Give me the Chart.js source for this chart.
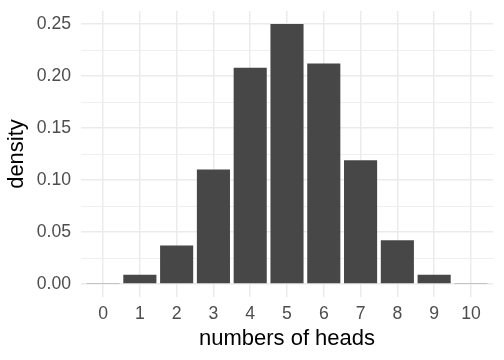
<!DOCTYPE html>
<html>
<head>
<meta charset="utf-8">
<script src="https://cdn.jsdelivr.net/npm/chart.js@4"></script>
<style>
  html, body { margin: 0; padding: 0; background: #fff; }
  #wrap { width: 504px; height: 360px; }
</style>
</head>
<body>
<div id="wrap"><canvas id="myChart" width="504" height="360"></canvas></div>
<script>
const heads = [0, 1, 2, 3, 4, 5, 6, 7, 8, 9, 10];
const density = [0.001, 0.009, 0.037, 0.110, 0.208, 0.250, 0.212, 0.119, 0.042, 0.009, 0.001];
const yTicks = [0, 0.025, 0.05, 0.075, 0.10, 0.125, 0.15, 0.175, 0.20, 0.225, 0.25];
const yLabels = ['0.00', '', '0.05', '', '0.10', '', '0.15', '', '0.20', '', '0.25'];

const ctx = document.getElementById('myChart').getContext('2d');

Chart.defaults.font.family = '"Liberation Sans", Arial, Helvetica, sans-serif';

const myChart = new Chart(ctx, {
    type: 'bar',
    data: {
        datasets: [{
            data: heads.map((h, i) => ({ x: h, y: density[i] })),
            backgroundColor: '#474747',
            borderWidth: 0,
            barPercentage: 0.9,
            categoryPercentage: 1.0
        }]
    },
    options: {
        responsive: false,
        animation: false,
        layout: { padding: { top: 0, right: 11, left: 0, bottom: 0 } },
        plugins: {
            legend: { display: false },
            tooltip: { enabled: false }
        },
        scales: {
            x: {
                type: 'linear',
                min: -0.6,
                max: 10.6,
                offset: false,
                afterBuildTicks: s => { s.ticks = heads.map(v => ({ value: v })); },
                afterFit: s => { s.height = 63; },
                grid: { color: '#ebebeb', lineWidth: 1.5, drawTicks: false, offset: false },
                border: { display: false },
                ticks: {
                    color: '#4d4d4d',
                    font: { size: 17.6 },
                    padding: 7,
                    maxRotation: 0,
                    callback: v => String(v)
                },
                title: {
                    display: true,
                    text: 'numbers of heads',
                    color: '#000',
                    font: { size: 22 },
                    padding: { top: 0, bottom: 8 }
                }
            },
            y: {
                min: -0.0125,
                max: 0.2625,
                afterBuildTicks: s => { s.ticks = yTicks.map(v => ({ value: v })); },
                afterFit: s => { s.width = 81; s.paddingTop = 11; s.paddingBottom = 0; },
                grid: {
                    color: '#ebebeb',
                    lineWidth: c => (c.index % 2 === 0 ? 1.5 : 0.8),
                    drawTicks: false
                },
                border: { display: false },
                ticks: {
                    color: '#4d4d4d',
                    font: { size: 17.6 },
                    padding: 10,
                    callback: (v, i) => yLabels[i]
                },
                title: {
                    display: true,
                    text: 'density',
                    color: '#000',
                    font: { size: 22 },
                    padding: { top: 4, bottom: 0 }
                }
            }
        }
    }
});
</script>
</body>
</html>
